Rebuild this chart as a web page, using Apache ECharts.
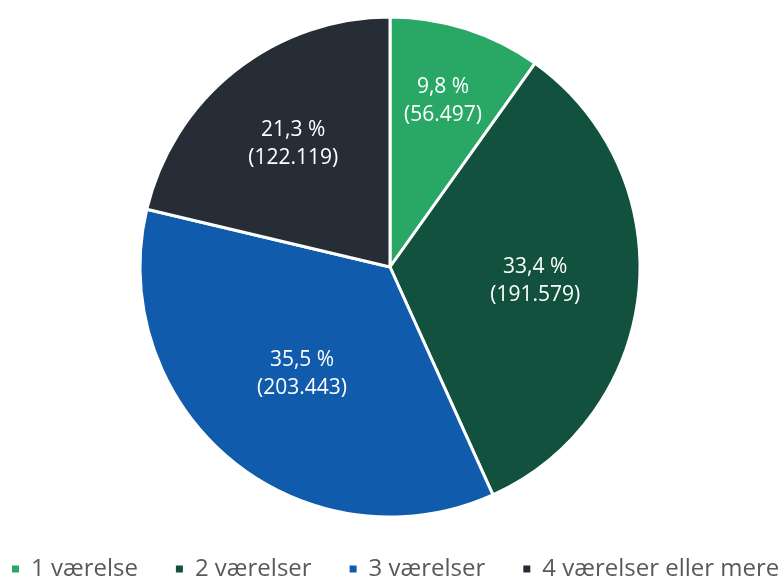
<!DOCTYPE html>
<html>
<head>
<meta charset="utf-8">
<script src="https://cdn.jsdelivr.net/npm/echarts@6/dist/echarts.min.js"></script>
<style>
  html, body { margin: 0; padding: 0; background: #fff; }
  #myChart { width: 779px; height: 578px; }
</style>
</head>
<body>
<div id="myChart"></div>
<script>
// data
const categories = ['1 værelse', '2 værelser', '3 værelser', '4 værelser eller mere'];
const counts = [56497, 191579, 203443, 122119];
const percents = [9.8, 33.4, 35.5, 21.3];
const colors = ['#28a864', '#11513d', '#115bad', '#262d37'];
// extra radial push of each label (Excel puts them further out than ECharts)
const labelPush = [0.36, 0.14, 0.08, 0.22];

function fmtCount (n) {
  return String(n).replace(/\B(?=(\d{3})+(?!\d))/g, '.');
}

const myChart = echarts.init(document.getElementById('myChart'));
myChart.setOption({
  animation: false,
  color: colors,
  legend: {
    left: 10,
    bottom: -3,
    width: 1000,
    padding: 0,
    icon: 'rect',
    itemWidth: 9,
    itemHeight: 9,
    itemGap: 36,
    textStyle: {
      color: '#595959',
      fontSize: 24,
      fontFamily: 'Open Sans',
      padding: [0, 0, 0, 6]
    },
    data: categories
  },
  series: [{
    type: 'pie',
    center: [390, 267],
    radius: 250,
    startAngle: 90,
    clockwise: true,
    itemStyle: {
      borderColor: '#fff',
      borderWidth: 3
    },
    label: {
      position: 'inside',
      color: '#fff',
      fontSize: 21,
      lineHeight: 28,
      fontFamily: 'Open Sans',
      formatter: function (p) {
        return String(percents[p.dataIndex]).replace('.', ',') + ' %\n(' + fmtCount(p.value) + ')';
      }
    },
    labelLayout: function (p) {
      const cx = 390, cy = 267;
      const lx = p.labelRect.x + p.labelRect.width / 2;
      const ly = p.labelRect.y + p.labelRect.height / 2;
      const k = labelPush[p.dataIndex];
      return { dx: (lx - cx) * k, dy: (ly - cy) * k };
    },
    data: categories.map(function (c, i) {
      return { name: c, value: counts[i] };
    })
  }]
});
</script>
</body>
</html>
